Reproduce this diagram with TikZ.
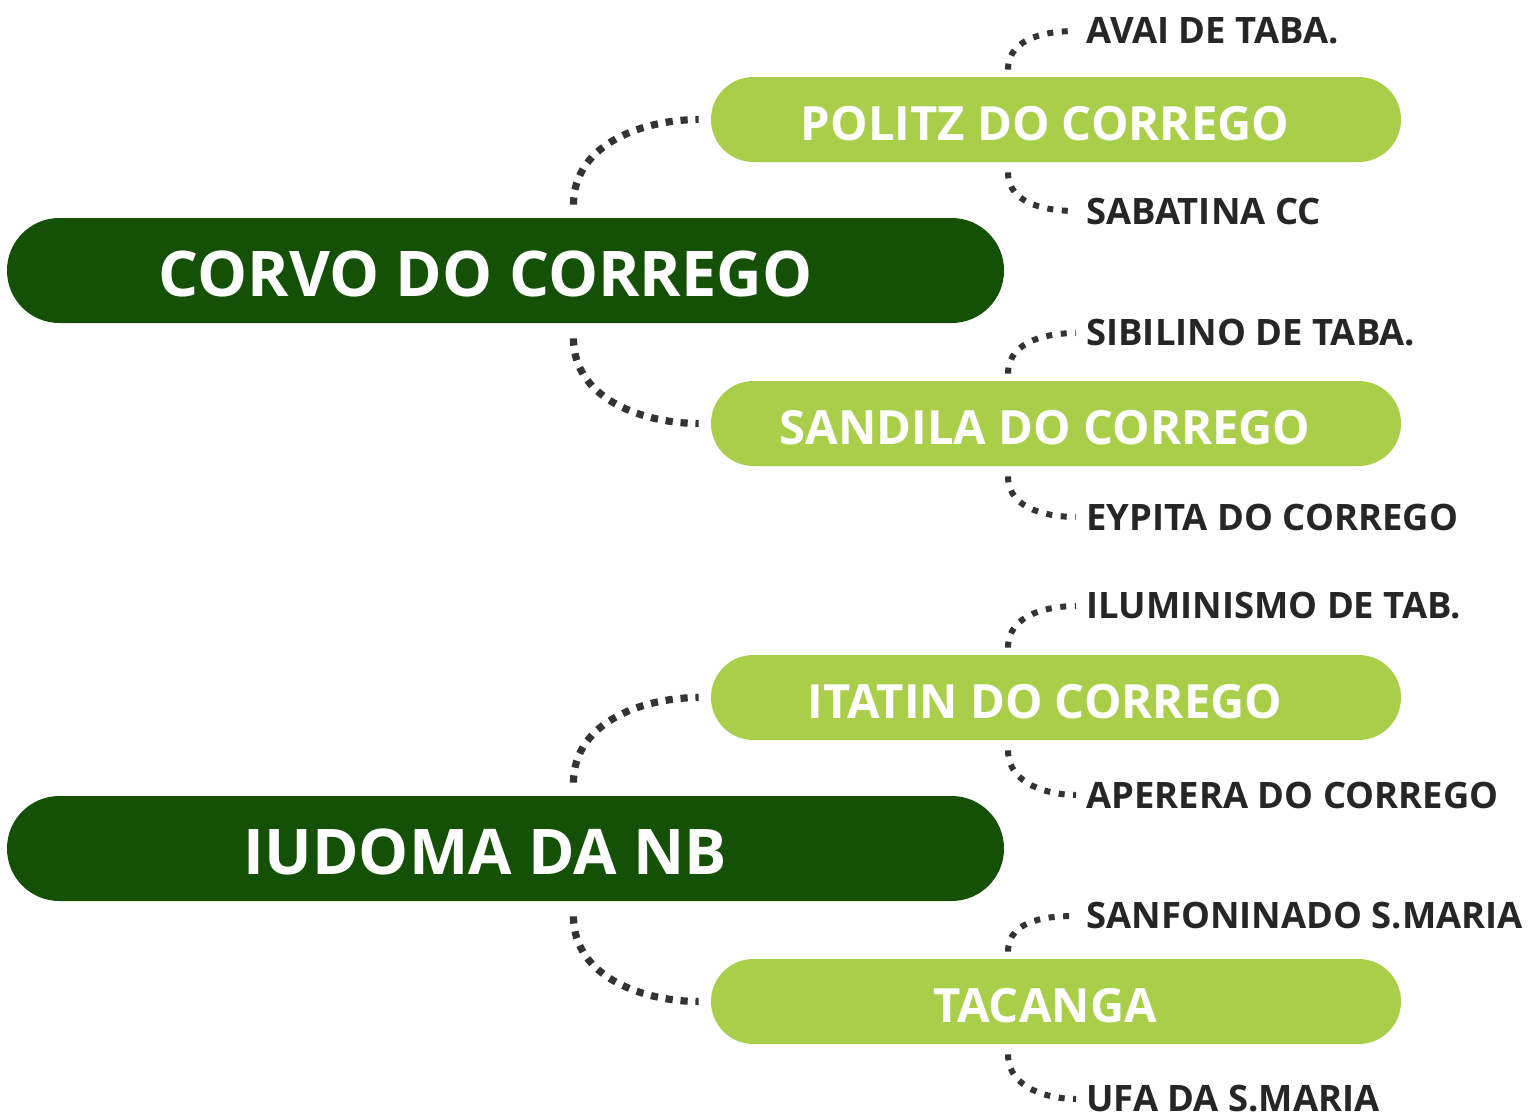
\documentclass[tikz,border=0pt]{standalone}
\usepackage{fontspec}
\setmainfont{Open Sans}
\usetikzlibrary{positioning}

\definecolor{darkleaf}{HTML}{145005}
\definecolor{lightleaf}{HTML}{A9CF4A}
\definecolor{inkgray}{HTML}{262626}
\definecolor{dotgray}{HTML}{333333}

\tikzset{
  trunk/.style={fill=darkleaf, rounded corners=26.2pt, minimum width=498.5pt, minimum height=52.5pt, inner sep=0pt},
  trunklabel/.style={text=white, font=\bfseries\fontsize{31.5}{31.5}\selectfont, inner sep=0pt},
  branch/.style={fill=lightleaf, rounded corners=21.2pt, minimum width=345pt, minimum height=42.5pt, inner sep=0pt},
  branchlabel/.style={text=white, font=\bfseries\fontsize{23.6}{23.6}\selectfont, inner sep=0pt},
  leaf/.style={text=inkgray, font=\bfseries\fontsize{18.2}{18.2}\selectfont, anchor=west, inner sep=0pt},
  biglink/.style={draw=dotgray, line width=3.6pt, dash pattern=on 3.6pt off 3.9pt, shorten >=6pt},
  smalllink/.style={draw=dotgray, line width=3pt, dash pattern=on 3pt off 4.3pt, shorten >=5pt},
}

\begin{document}
\begin{tikzpicture}[x=0.5pt, y=-0.5pt]
    \useasboundingbox (0,0) rectangle (1532,1119);

    % Main boxes
    \node[trunk] (corvo) at (505.5,270.5) {};
    \node[trunklabel] (corvotext) at ([xshift=-10pt,yshift=-1.5pt]corvo.center) {CORVO DO CORREGO};
    \node[trunk] (iudoma) at (505.5,848.5) {};
    \node[trunklabel] (iudomatext) at ([xshift=-10pt,yshift=-1.5pt]iudoma.center) {IUDOMA DA NB};

    % Branch boxes
    \foreach \n/\y/\t in {politz/119.5/POLITZ DO CORREGO, sandila/423.5/SANDILA DO CORREGO, itatin/697.5/ITATIN DO CORREGO, tacanga/1001.5/TACANGA} {
      \node[branch] (\n) at (1056,\y) {};
      \node[branchlabel] (\n text) at ([xshift=-5.5pt,yshift=-2pt]\n.center) {\t};
    }

    % Leaves
    \foreach \n/\y/\t in {avai/31/AVAI DE TABA., sabatina/211/SABATINA CC, sibilino/333/SIBILINO DE TABA., eypita/517/EYPITA DO CORREGO, iluminismo/606/ILUMINISMO DE TAB., aperera/795/APERERA DO CORREGO, sanfoninado/916/SANFONINADO S.MARIA, ufa/1099/UFA DA S.MARIA} {
      \node[leaf] (\n) at (1086,\y) {\t};
    }

    % Main links
    \draw[biglink] ([xshift=34pt,yshift=6.5pt]corvo.north) to[out=90,in=180] (politz.west);
    \draw[biglink] ([xshift=34pt,yshift=-7.5pt]corvo.south) to[out=-90,in=180] (sandila.west);
    \draw[biglink] ([xshift=34pt,yshift=6.5pt]iudoma.north) to[out=90,in=180] (itatin.west);
    \draw[biglink] ([xshift=34pt,yshift=-7.5pt]iudoma.south) to[out=-90,in=180] (tacanga.west);

    % Leaf links
    \foreach \b/\up/\down in {politz/avai/sabatina, sandila/sibilino/eypita, itatin/iluminismo/aperera, tacanga/sanfoninado/ufa} {
      \draw[smalllink] ([xshift=-24pt,yshift=3.5pt]\b.north) to[out=90,in=180] (\up.west);
      \draw[smalllink] ([xshift=-24pt,yshift=-5pt]\b.south) to[out=-90,in=180] (\down.west);
    }
\end{tikzpicture}
\end{document}
